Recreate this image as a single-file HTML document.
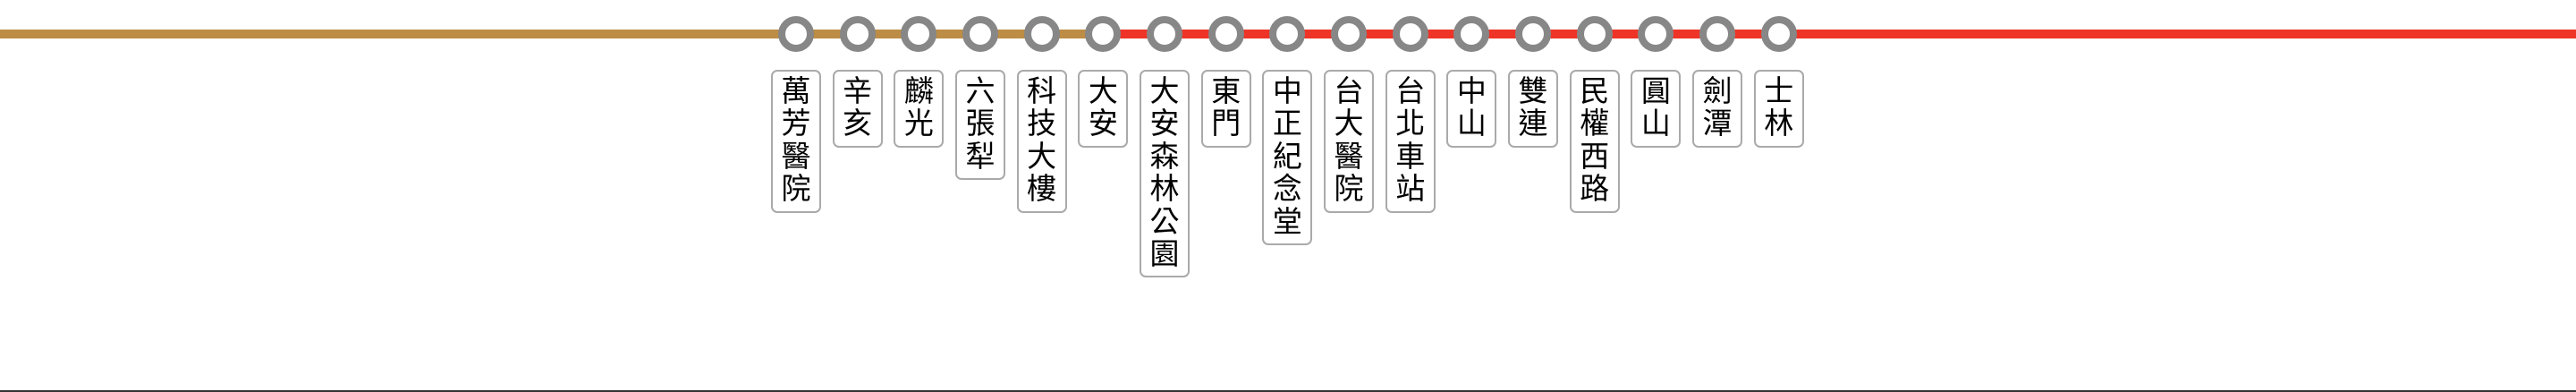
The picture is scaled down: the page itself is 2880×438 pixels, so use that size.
<!DOCTYPE html>
<html><head><meta charset="utf-8"><style>
html,body{margin:0;padding:0;background:#fff;}
body{width:2880px;height:438px;position:relative;overflow:hidden;font-family:"Liberation Sans","Noto Sans CJK TC",sans-serif;}
.ln{position:absolute;top:33px;height:10px;}
.st{position:absolute;top:18px;width:24px;height:24px;border:8px solid #878787;border-radius:50%;background:#fff;}
.bx{position:absolute;top:78px;width:52px;border:2px solid #aaa;border-radius:7px;box-sizing:content-box;padding:4px 0 6px;text-align:center;font-size:33px;line-height:36.4px;color:#000;background:#fff;}
.bot{position:absolute;left:0;top:436px;width:2880px;height:2px;background:#333;}
</style></head><body>
<div class="ln" style="left:0;width:1233px;background:#bd8d45"></div>
<div class="ln" style="left:1233px;width:1647px;background:#ee3427"></div>
<div class="bot"></div>
<div id="c"></div>
<script>
var n=["萬芳醫院","辛亥","麟光","六張犁","科技大樓","大安","大安森林公園","東門","中正紀念堂","台大醫院","台北車站","中山","雙連","民權西路","圓山","劍潭","士林"];
var h="";
for(var i=0;i<n.length;i++){var x=890+68.67*i;
h+='<div class="st" style="left:'+(x-20)+'px"></div>';
h+='<div class="bx" style="left:'+(x-28)+'px">'+n[i].split("").join("<br>")+'</div>';}
document.getElementById("c").innerHTML=h;
</script>
</body></html>
